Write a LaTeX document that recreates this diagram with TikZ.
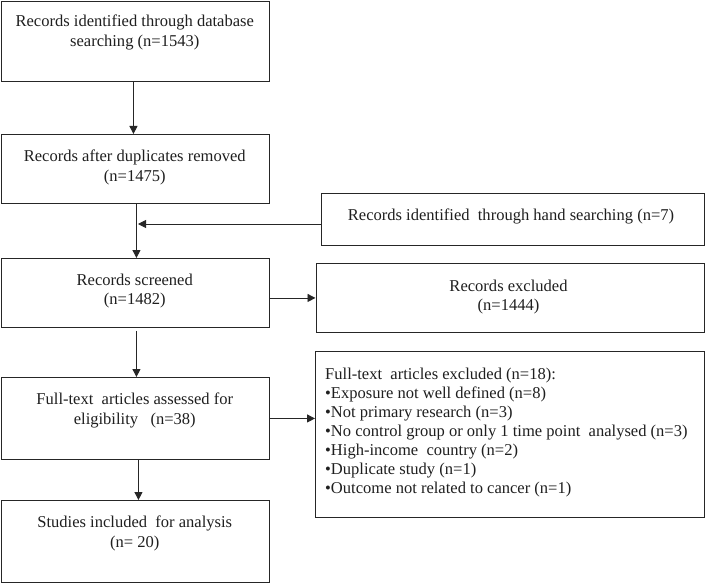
\documentclass[tikz,border=0pt]{standalone}
\usepackage{fontspec}
\setmainfont{Liberation Serif}
\usetikzlibrary{arrows.meta}
\begin{document}
\begin{tikzpicture}[x=1bp,y=-1bp,
  box/.style={draw=black!85, line width=0.9bp, inner sep=0, anchor=north west},
  txt/.style={align=center, inner sep=0, font=\fontsize{16.6}{20}\selectfont, text=black!88},
  ltxt/.style={align=left, inner sep=0, anchor=north west, font=\fontsize{16.6}{19}\selectfont, text=black!88},
  arr/.style={draw=black!85, line width=0.9bp, -{Triangle[length=8bp,width=8bp]}}]
\fill[white] (0,0) rectangle (710,584);
\useasboundingbox (0,0) rectangle (710,584);
% boxes
\node[box, minimum width=267.5bp, minimum height=80bp] (b1) at (1,1) {};
\node[box, minimum width=267.5bp, minimum height=68.5bp] (b2) at (1,134) {};
\node[box, minimum width=267.5bp, minimum height=69bp] (b3) at (1,258) {};
\node[box, minimum width=267.5bp, minimum height=82bp] (b4) at (1,377) {};
\node[box, minimum width=267.5bp, minimum height=82bp] (b5) at (1,500) {};
\node[box, minimum width=383bp, minimum height=52bp] (hand) at (321,193) {};
\node[box, minimum width=388.5bp, minimum height=69bp] (excl) at (315.5,263) {};
\node[box, minimum width=389bp, minimum height=166bp] (excl2) at (315,351) {};
% texts
\node[txt] (t1) at (134.75,32.7) {Records identified through database\\searching (n=1543)};
\node[txt] (t2) at (134.75,167) {Records after duplicates removed\\(n=1475)};
\node[txt] (t3) at (134.75,291) {Records screened\\(n=1482)};
\node[txt] (t4) at (134.75,410.3) {Full-text\ \ articles assessed for\\eligibility\ \ \ (n=38)};
\node[txt] (t5) at (134.75,533.7) {Studies included\ \ for analysis\\(n= 20)};
\node[txt] (th) at (511,216) {Records identified\ \ through hand searching (n=7)};
\node[txt] (te) at (508.5,297) {Records excluded\\(n=1444)};
\node[ltxt] (te2) at (325,367.8) {Full-text\ \ articles excluded (n=18):\\
•Exposure not well defined (n=8)\\
•Not primary research (n=3)\\
•No control group or only 1 time point\ \ analysed (n=3)\\
•High-income\ \ country (n=2)\\
•Duplicate study (n=1)\\
•Outcome not related to cancer (n=1)};
% connectors
\draw[arr] ([xshift=-1.75bp]b1.south) -- ([xshift=-1.75bp]b2.north);
\draw[arr] ([xshift=1.25bp]b2.south) -- ([xshift=1.25bp]b3.north);
\coordinate (j) at (138,224);
\draw[arr] (j -| hand.west) -- (j);
\draw[arr] ([yshift=-5bp]b3.east) -- ([yshift=-5bp]b3.east -| excl.west);
\draw[arr] ([xshift=1.25bp,yshift=-3bp]b3.south) -- ([xshift=1.25bp]b4.north);
\draw[arr] (b4.east) -- (b4.east -| excl2.west);
\draw[arr] ([xshift=3.25bp]b4.south) -- ([xshift=3.25bp]b5.north);
\end{tikzpicture}
\end{document}
